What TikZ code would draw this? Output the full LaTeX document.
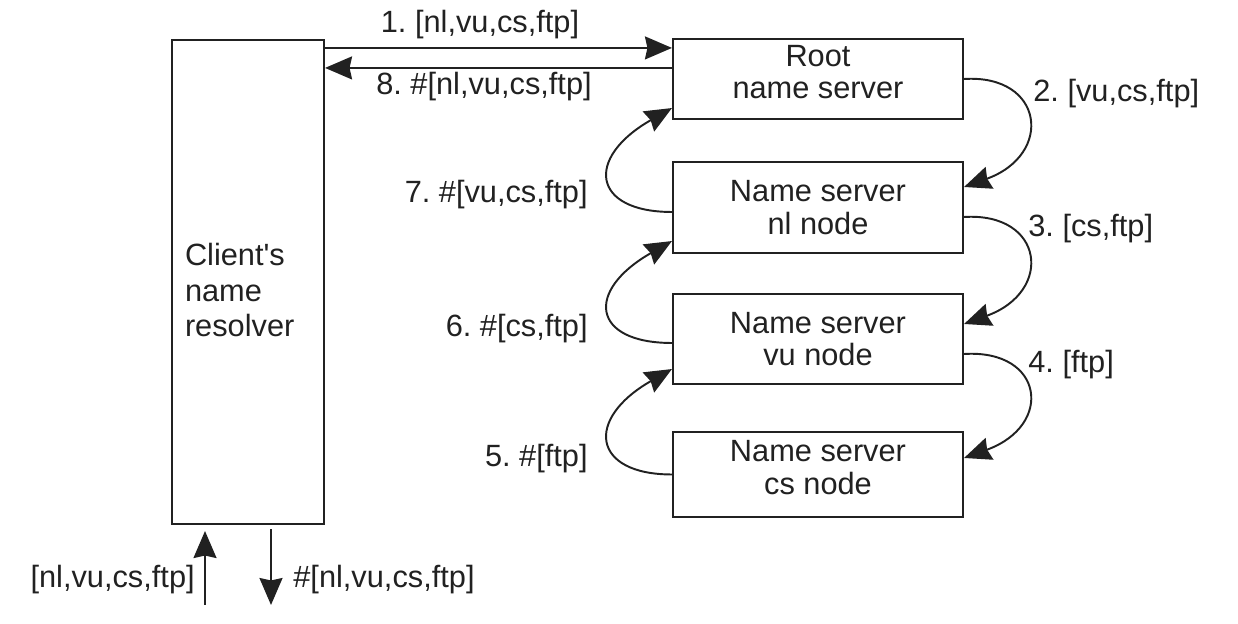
\documentclass[tikz,border=0pt]{standalone}
\usepackage{fontspec}
\setmainfont{Liberation Sans}
\usetikzlibrary{arrows.meta}
\frenchspacing

\begin{document}
\begin{tikzpicture}[font=\fontsize{17.5}{18.5}\selectfont]
  \definecolor{ink}{rgb}{0.13,0.13,0.13};
  \tikzstyle{server}=[draw=ink,text=ink,line width=1.2pt,minimum width=5.8cm,minimum height=1.8cm,align=center,inner sep=0pt]
  \tikzstyle{msg}=[text=ink,inner sep=0pt]
  \tikzstyle{arr}=[draw=ink,line width=1.1pt,-{Stealth[length=0.54cm,width=0.46cm,inset=0.05cm]}]
  \useasboundingbox (0,0) rectangle (24.76,12.48);
  \node (client) at (4.96,6.84) [draw=ink,text=ink,line width=1.2pt,minimum width=3.04cm,minimum height=9.68cm,text width=2.52cm,align=left,inner xsep=0.26cm,text depth=31.8pt,font=\fontsize{17.5}{20.4}\selectfont] {Client\textquotesingle s\\name\\resolver};
  \node (root) at (16.36,10.90) [server,minimum height=1.6cm,text depth=8pt] {Root\\name server};
  \node (nl)   at (16.36,8.33)  [server,minimum height=1.82cm] {Name server\\nl node};
  \node (vu)   at (16.36,5.70)  [server] {Name server\\vu node};
  \node (cs)   at (16.36,2.99)  [server,minimum height=1.7cm,text depth=8pt] {Name server\\cs node};
  \node (m1) at (9.60,11.82)  [msg,anchor=base] {1. [nl,vu,cs,ftp]};
  \node (m8) at (9.68,10.58)  [msg,anchor=base] {8. \#[nl,vu,cs,ftp]};
  \node (m2) at (20.66,10.44) [msg,anchor=base west] {2. [vu,cs,ftp]};
  \node (m3) at (20.56,7.74)  [msg,anchor=base west] {3. [cs,ftp]};
  \node (m4) at (20.56,5.02)  [msg,anchor=base west] {4. [ftp]};
  \node (m7) at (11.76,8.42)  [msg,anchor=base east] {7. \#[vu,cs,ftp]};
  \node (m6) at (11.76,5.74)  [msg,anchor=base east] {6. \#[cs,ftp]};
  \node (m5) at (11.76,3.14)  [msg,anchor=base east] {5. \#[ftp]};
  \node (qin)  at (3.90,0.72) [msg,anchor=base east] {[nl,vu,cs,ftp]};
  \node (qout) at (5.86,0.72) [msg,anchor=base west] {\#[nl,vu,cs,ftp]};
  \coordinate (a1) at ([yshift=-0.2cm]root.north west);
  \coordinate (a8) at ([yshift=-0.6cm]root.north west);
  \coordinate (up) at (4.10,0.38);
  \coordinate (down) at (5.42,0.38);
  \draw[arr] (client.east |- a1) -- (a1);
  \draw[arr] (a8) -- (client.east |- a8);
  \draw[arr,shorten >=0.12cm] (up) -- (up |- client.south);
  \draw[arr,shorten <=0.08cm] (down |- client.south) -- (down);
  \draw[arr] (root.east) .. controls +(1.6,0.1) and +(1.8,0.65) .. ([yshift=0.41cm]nl.east);
  \draw[arr] ([yshift=-0.19cm]nl.east) .. controls +(1.6,0.1) and +(1.8,0.65) .. ([yshift=0.30cm]vu.east);
  \draw[arr] ([yshift=-0.30cm]vu.east) .. controls +(1.6,0.1) and +(1.8,0.65) .. ([yshift=0.33cm]cs.east);
  \draw[arr] ([yshift=-0.09cm]nl.west) .. controls +(-1.6,0) and +(-1.75,-1.0) .. ([yshift=0.24cm]root.south west);
  \draw[arr] ([yshift=-0.08cm]vu.west) .. controls +(-1.6,0) and +(-1.75,-1.0) .. ([yshift=0.26cm]nl.south west);
  \draw[arr] (cs.west) .. controls +(-1.6,0) and +(-1.75,-1.0) .. ([yshift=0.32cm]vu.south west);
\end{tikzpicture}
\end{document}
